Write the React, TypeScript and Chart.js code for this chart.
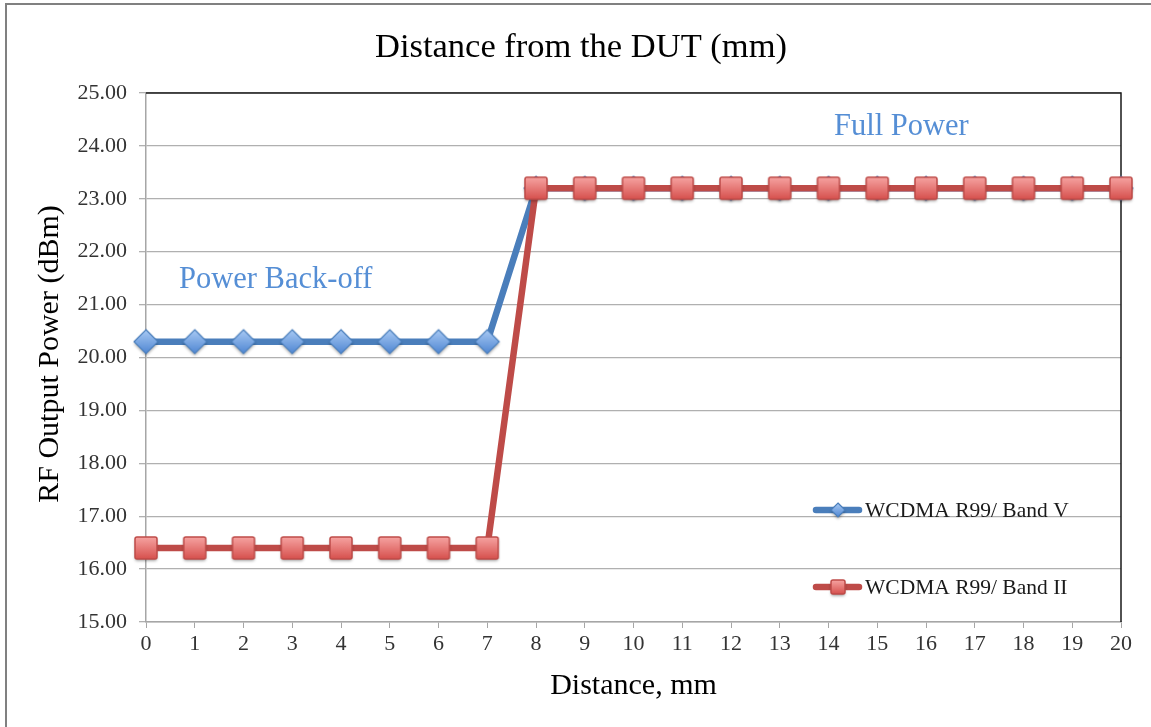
import React, { useEffect, useRef } from "react";
import { Chart, registerables } from "chart.js";

Chart.register(...registerables);

const distances: string[] = ["0","1","2","3","4","5","6","7","8","9","10","11","12","13","14","15","16","17","18","19","20"];
const bandV: number[] = [20.3,20.3,20.3,20.3,20.3,20.3,20.3,20.3,23.2,23.2,23.2,23.2,23.2,23.2,23.2,23.2,23.2,23.2,23.2,23.2,23.2];
const bandII: number[] = [16.4,16.4,16.4,16.4,16.4,16.4,16.4,16.4,23.2,23.2,23.2,23.2,23.2,23.2,23.2,23.2,23.2,23.2,23.2,23.2,23.2];
const seriesNames: string[] = ["WCDMA R99/ Band V", "WCDMA R99/ Band II"];
const titleText = "Distance from the DUT (mm)";
const xTitle = "Distance, mm";
const yTitle = "RF Output Power (dBm)";
const noteBackoff = "Power Back-off";
const noteFull = "Full Power";

const FONT = "'Liberation Serif', 'DejaVu Serif', serif";
const BLUE = "#4A7EBB";
const RED = "#BE4B48";
const NOTE = "#558ED5";

function makeDiamond(half: number): HTMLCanvasElement {
  const pad = 5;
  const s = half * 2 + pad * 2;
  const c = document.createElement("canvas");
  c.width = s; c.height = s;
  const ctx = c.getContext("2d")!;
  const cx = s / 2, cy = s / 2;
  const path = () => {
    ctx.beginPath();
    ctx.moveTo(cx, cy - half);
    ctx.lineTo(cx + half, cy);
    ctx.lineTo(cx, cy + half);
    ctx.lineTo(cx - half, cy);
    ctx.closePath();
  };
  ctx.save();
  ctx.shadowColor = "rgba(0,0,0,0.35)";
  ctx.shadowBlur = 3;
  ctx.shadowOffsetY = 2;
  path();
  const g = ctx.createLinearGradient(0, cy - half, 0, cy + half);
  g.addColorStop(0, "#A9CAF4");
  g.addColorStop(1, "#4F86D2");
  ctx.fillStyle = g;
  ctx.fill();
  ctx.restore();
  path();
  ctx.strokeStyle = BLUE;
  ctx.lineWidth = 1.2;
  ctx.stroke();
  return c;
}

function makeSquare(half: number): HTMLCanvasElement {
  const pad = 5;
  const s = half * 2 + pad * 2;
  const c = document.createElement("canvas");
  c.width = s; c.height = s;
  const ctx = c.getContext("2d")!;
  const x0 = pad, y0 = pad, w = half * 2;
  const path = () => {
    ctx.beginPath();
    if ((ctx as any).roundRect) (ctx as any).roundRect(x0, y0, w, w, 2);
    else ctx.rect(x0, y0, w, w);
  };
  ctx.save();
  ctx.shadowColor = "rgba(0,0,0,0.35)";
  ctx.shadowBlur = 3;
  ctx.shadowOffsetY = 2;
  path();
  const g = ctx.createLinearGradient(0, y0, 0, y0 + w);
  g.addColorStop(0, "#F6A3A1");
  g.addColorStop(1, "#D6504D");
  ctx.fillStyle = g;
  ctx.fill();
  ctx.restore();
  path();
  ctx.strokeStyle = RED;
  ctx.lineWidth = 1.5;
  ctx.stroke();
  return c;
}

export default function App() {
  const ref = useRef<HTMLCanvasElement | null>(null);

  useEffect(() => {
    if (!ref.current) return;
    const diamond = makeDiamond(12);
    const square = makeSquare(11);
    const diamondSmall = makeDiamond(7);
    const squareSmall = makeSquare(7);

    const decor = {
      id: "decor",
      beforeDatasetsDraw(chart: any) {
        const ctx = chart.ctx as CanvasRenderingContext2D;
        const a = chart.chartArea;
        ctx.save();
        ctx.strokeStyle = "#1a1a1a";
        ctx.lineWidth = 1.5;
        ctx.beginPath();
        ctx.moveTo(a.left, a.top);
        ctx.lineTo(a.right, a.top);
        ctx.lineTo(a.right, a.bottom);
        ctx.stroke();
        ctx.restore();
      },
      afterDraw(chart: any) {
        const ctx = chart.ctx as CanvasRenderingContext2D;
        const a = chart.chartArea;
        ctx.save();
        // outer frame
        ctx.strokeStyle = "#808080";
        ctx.lineWidth = 2;
        ctx.beginPath();
        ctx.moveTo(6, chart.height);
        ctx.lineTo(6, 4);
        ctx.lineTo(chart.width, 4);
        ctx.stroke();
        // title
        ctx.fillStyle = "#000";
        ctx.textAlign = "center";
        ctx.textBaseline = "middle";
        ctx.font = `34.5px ${FONT}`;
        ctx.fillText(titleText, 581, 48);
        // axis titles
        ctx.font = `30px ${FONT}`;
        ctx.fillText(xTitle, (a.left + a.right) / 2, 686);
        ctx.save();
        ctx.translate(50, 354);
        ctx.rotate(-Math.PI / 2);
        ctx.fillText(yTitle, 0, 0);
        ctx.restore();
        // notes
        ctx.fillStyle = NOTE;
        ctx.textAlign = "left";
        ctx.font = `30.5px ${FONT}`;
        ctx.fillText(noteBackoff, 179, 280);
        ctx.fillText(noteFull, 834, 127);
        // legend
        const items = [
          { name: seriesNames[0], color: BLUE, img: diamondSmall, y: 510 },
          { name: seriesNames[1], color: RED, img: squareSmall, y: 587 },
        ];
        for (const it of items) {
          ctx.strokeStyle = it.color;
          ctx.lineWidth = 6.5;
          ctx.lineCap = "round";
          ctx.beginPath();
          ctx.moveTo(816, it.y);
          ctx.lineTo(859, it.y);
          ctx.stroke();
          ctx.drawImage(it.img, 838 - it.img.width / 2, it.y - it.img.height / 2);
          ctx.fillStyle = "#1a1a1a";
          ctx.font = `21.5px ${FONT}`;
          ctx.textBaseline = "middle";
          ctx.fillText(it.name, 865, it.y + 1);
        }
        ctx.restore();
      },
    };

    const chart = new Chart(ref.current, {
      type: "line",
      data: {
        labels: distances,
        datasets: [
          {
            label: seriesNames[0],
            data: bandV,
            borderColor: BLUE,
            backgroundColor: BLUE,
            borderWidth: 6.5,
            pointStyle: diamond as any,
            pointRadius: 12,
            tension: 0,
            clip: false as any,
            order: 1,
          },
          {
            label: seriesNames[1],
            data: bandII,
            borderColor: RED,
            backgroundColor: RED,
            borderWidth: 6.5,
            pointStyle: square as any,
            pointRadius: 11,
            tension: 0,
            clip: false as any,
            order: 0,
          },
        ],
      },
      options: {
        animation: false,
        responsive: false,
        maintainAspectRatio: false,
        layout: { padding: { left: 0, top: 93, right: 30, bottom: 0 } },
        plugins: {
          legend: { display: false },
          title: { display: false },
          tooltip: { enabled: false },
        },
        scales: {
          x: {
            type: "category",
            offset: false,
            afterFit: (s: any) => { s.height = 105; },
            grid: {
              drawOnChartArea: false,
              drawTicks: true,
              tickLength: 6,
              color: "#a6a6a6",
            },
            border: { color: "#a6a6a6", width: 1.5 },
            ticks: {
              color: "#333",
              font: { family: FONT, size: 22 },
              padding: 3,
              maxRotation: 0,
              autoSkip: false,
            },
          },
          y: {
            min: 15,
            max: 25,
            afterFit: (s: any) => { s.width = 146; },
            grid: {
              color: "#b0b0b0",
              lineWidth: 1.3,
              drawTicks: true,
              tickLength: 7,
            },
            border: { color: "#a6a6a6", width: 1.5 },
            ticks: {
              stepSize: 1,
              color: "#333",
              font: { family: FONT, size: 22 },
              padding: 12,
              callback: (v: any) => Number(v).toFixed(2),
            },
          },
        },
      },
      plugins: [decor],
    });
    return () => chart.destroy();
  }, []);

  return (
    <div style={{ position: "absolute", left: 0, top: 0, width: 1151, height: 727, background: "#fff" }}>
      <canvas ref={ref} width={1151} height={727} style={{ display: "block", width: 1151, height: 727 }} />
    </div>
  );
}
